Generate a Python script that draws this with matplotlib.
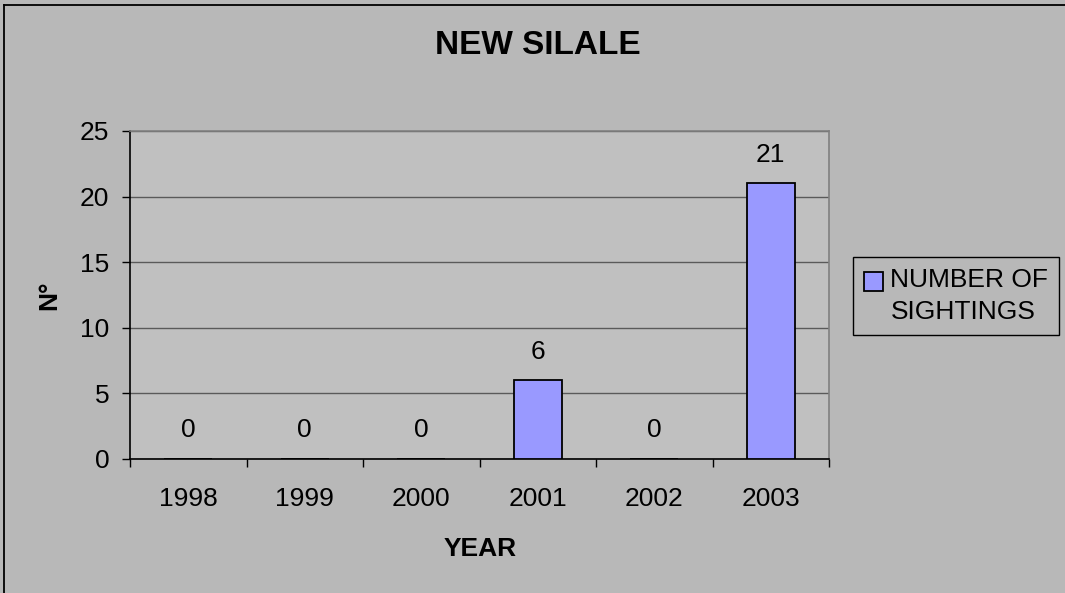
import matplotlib.pyplot as plt
import numpy as np
from matplotlib.lines import Line2D
from matplotlib.patches import Patch
from matplotlib.offsetbox import DrawingArea, VPacker

plt.rcParams['font.family'] = ['Liberation Sans', 'DejaVu Sans']

years = ["1998", "1999", "2000", "2001", "2002", "2003"]
sightings = [0, 0, 0, 6, 0, 21]

bg = '#b8b8b8'
plot_bg = '#c0c0c0'
bar_color = '#9999ff'
fs = 19

fig = plt.figure(figsize=(10.65, 5.93), dpi=100, facecolor=bg)
ax = fig.add_axes([130 / 1065, 134 / 593, 699 / 1065, 328 / 593])
ax.set_facecolor(plot_bg)

x = np.arange(len(years))
ax.bar(x, sightings, width=0.41, color=bar_color, edgecolor='black',
       linewidth=1.3, zorder=3)

# value labels above each bar
for xi, v in zip(x, sightings):
    ax.annotate(str(v), (xi, v), xytext=(0, 12), textcoords='offset points',
                ha='center', va='bottom', fontsize=fs)

ax.set_xlim(-0.5, len(years) - 0.5)
ax.set_ylim(0, 25)
ax.set_yticks(np.arange(0, 26, 5))
ax.yaxis.grid(True, color='#5a5a5a', linewidth=1, zorder=0)
ax.set_axisbelow(True)

ax.set_xticks(x)
ax.set_xticklabels(years)
ax.set_xticks(np.arange(-0.5, len(years)), minor=True)
ax.tick_params(axis='x', which='major', length=0, pad=20.5, labelsize=fs)
ax.tick_params(axis='x', which='minor', length=6, width=1, direction='out')
ax.tick_params(axis='y', length=6, width=1, pad=9, labelsize=fs)

for side in ['left', 'bottom']:
    ax.spines[side].set_color('black')
    ax.spines[side].set_linewidth(1.2)
for side in ['top', 'right']:
    ax.spines[side].set_color('#808080')
    ax.spines[side].set_linewidth(1.2)

ax.set_title("NEW SILALE", fontsize=24, fontweight='bold', pad=0,
             x=(538 - 130) / 699, y=1 + (131 - 45) / 328, va='center')

ax.set_xlabel("YEAR", fontsize=fs, fontweight='bold')
ax.xaxis.set_label_coords((480 - 130) / 699, -(551 - 461) / 328)
ax.xaxis.label.set(ha='center', va='center')

ax.set_ylabel("N°", fontsize=fs, fontweight='bold')
ax.yaxis.set_label_coords((49 - 130) / 699, 0.5)
ax.yaxis.label.set(ha='center', va='center')

leg = fig.legend(handles=[Patch(facecolor=bar_color, edgecolor='black', linewidth=1.3)],
                 labels=["NUMBER OF\nSIGHTINGS"], loc='upper left',
                 bbox_to_anchor=(853 / 1065, 1 - 257 / 593), borderaxespad=0,
                 fontsize=fs, handlelength=0.72, handleheight=0.72,
                 handletextpad=0.3, borderpad=0.4, fancybox=False,
                 facecolor=bg, edgecolor='black', framealpha=1)
leg.get_frame().set_linewidth(1)
leg.get_texts()[0].set_linespacing(1.45)
# keep the swatch level with the first text line
for column in leg._legend_handle_box.get_children():
    for row in column.get_children():
        row.align = 'top'
        swatch = row._children[0]
        row._children[0] = VPacker(children=[DrawingArea(1, 3.5), swatch],
                                   pad=0, sep=0, align='left')

# outer chart border (left and top edges)
fig.add_artist(Line2D([4.5 / 1065, 4.5 / 1065], [0, 1 - 4.5 / 593], color='black', lw=1.3))
fig.add_artist(Line2D([4.5 / 1065, 1], [1 - 4.5 / 593, 1 - 4.5 / 593], color='black', lw=1.3))

fig.savefig("out.png", dpi=100, facecolor=bg)
